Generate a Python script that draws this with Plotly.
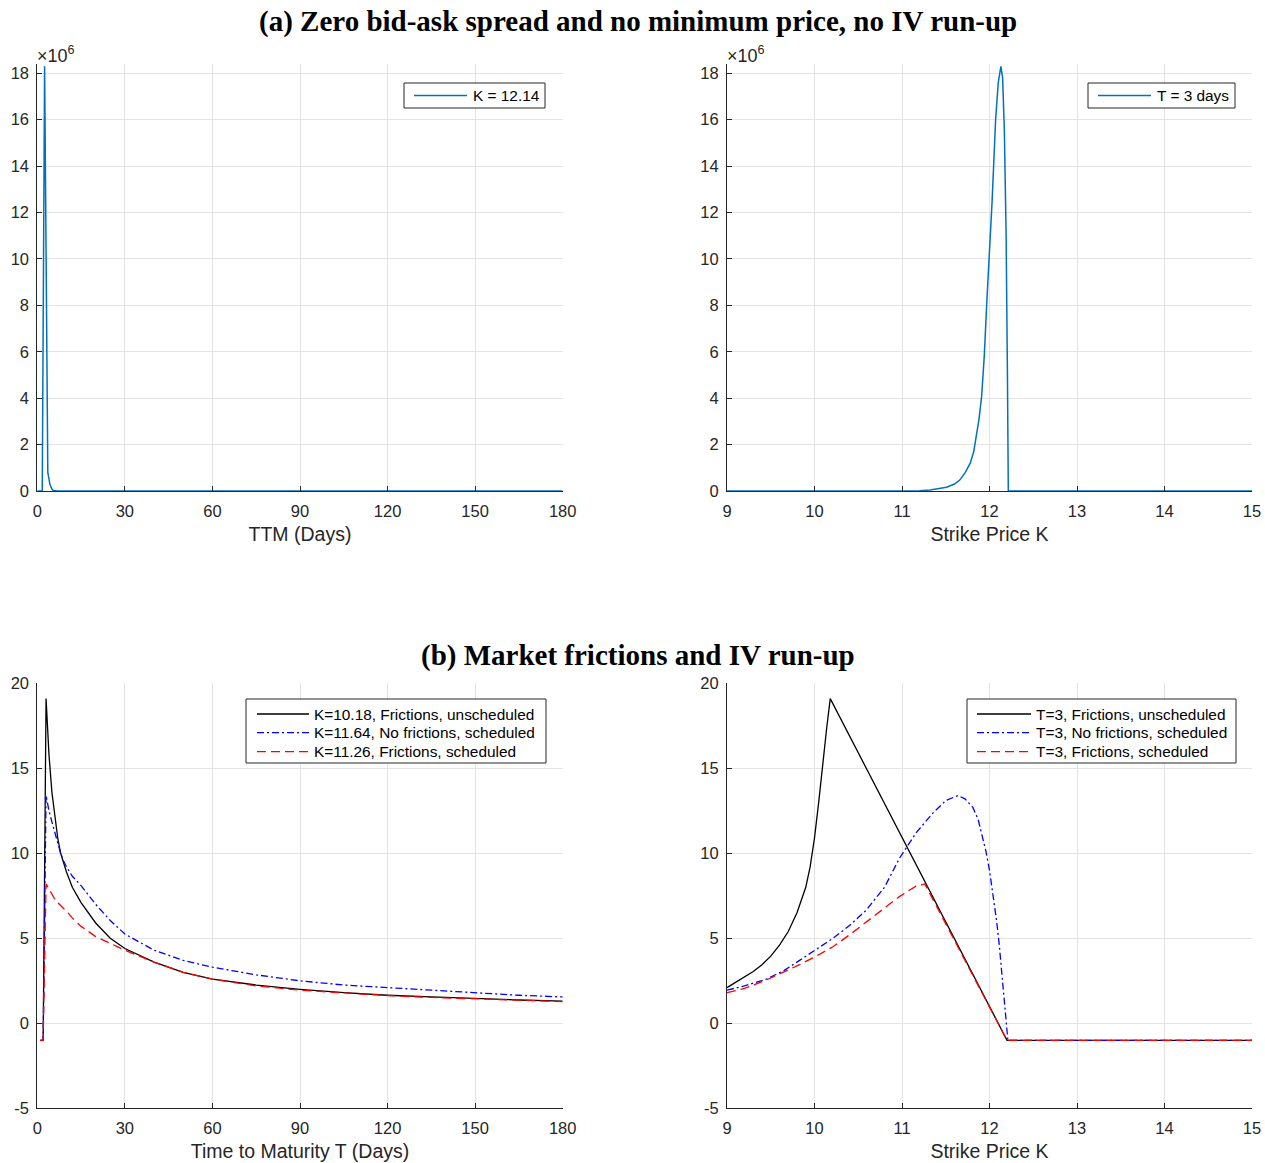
import plotly.graph_objects as go

# ---------------- data ----------------
# Panel (a) left: K = 12.14, values in units of 1e6
ttm_a = [0, 1.0, 1.7, 2.5, 3.0, 3.6, 4.3, 5.0, 5.5, 7, 10, 30, 60, 90, 120, 150, 180]
val_a = [0, 0, 0, 18.3, 9.0, 0.8, 0.3, 0.08, 0.02, 0, 0, 0, 0, 0, 0, 0, 0]

# Panel (a) right: T = 3 days, values in units of 1e6
strike_a = [9.0, 10.0, 11.0, 11.2, 11.32, 11.42, 11.51, 11.6, 11.66, 11.72, 11.78, 11.82,
            11.85, 11.88, 11.91, 11.94, 11.97, 12.0, 12.03, 12.07, 12.10, 12.13, 12.15,
            12.17, 12.19, 12.205, 12.215, 13.0, 14.0, 15.0]
valk_a = [0, 0, 0, 0.01, 0.04, 0.09, 0.16, 0.3, 0.47, 0.78, 1.2, 1.7,
          2.34, 3.1, 4.07, 5.8, 8.2, 10.3, 12.5, 16.0, 17.6, 18.3, 17.8,
          15.5, 11.0, 5.0, 0, 0, 0, 0]

# Panel (b) left: time to maturity
ttm_b = [1, 2, 3, 4, 5, 6, 7, 8, 9, 10, 12, 15, 20, 25, 30, 40, 50, 60, 75, 90, 105, 120, 135, 150, 165, 180]
fric_unsched_t = [-1, -1, 19.1, 15.8, 13.6, 12.1, 10.9, 10.0, 9.4, 8.9, 8.0, 7.1, 5.9, 5.0, 4.4, 3.6,
                  3.0, 2.6, 2.25, 2.0, 1.8, 1.65, 1.55, 1.45, 1.37, 1.3]
nofric_sched_t = [-1, -1, 13.4, 12.5, 11.85, 11.2, 10.6, 10.0, 9.55, 9.2, 8.65, 8.1, 7.0, 6.05, 5.25,
                  4.3, 3.7, 3.3, 2.85, 2.5, 2.25, 2.1, 1.95, 1.8, 1.65, 1.55]
fric_sched_t = [-1, -1, 8.2, 7.9, 7.6, 7.3, 7.1, 6.9, 6.75, 6.6, 6.2, 5.7, 5.1, 4.7, 4.3, 3.6, 3.0,
                2.6, 2.2, 1.95, 1.78, 1.63, 1.52, 1.43, 1.35, 1.28]

# Panel (b) right: strike price
k_black = [9.0, 9.1, 9.2, 9.3, 9.4, 9.5, 9.6, 9.7, 9.8, 9.9, 9.95, 10.0, 10.05, 10.1, 10.14, 10.18,
           12.2, 13.0, 14.0, 15.0]
v_black = [2.1, 2.4, 2.7, 3.05, 3.45, 3.95, 4.6, 5.4, 6.5, 8.0, 9.2, 10.9, 13.1, 15.6, 17.4, 19.1,
           -1, -1, -1, -1]
k_blue = [9.0, 9.2, 9.45, 9.65, 9.83, 10.0, 10.21, 10.4, 10.59, 10.8, 10.97, 11.16, 11.35, 11.5,
          11.64, 11.72, 11.81, 11.87, 11.92, 11.96, 12.0, 12.04, 12.08, 12.11, 12.15, 12.18, 12.21,
          13.0, 14.0, 15.0]
v_blue = [1.95, 2.2, 2.6, 3.1, 3.7, 4.3, 5.0, 5.75, 6.65, 8.0, 9.7, 11.2, 12.35, 13.1,
          13.4, 13.2, 12.7, 12.0, 11.0, 10.1, 9.0, 7.6, 6.07, 4.7, 2.5, 0.6, -1,
          -1, -1, -1]
k_red = [9.0, 9.2, 9.45, 9.65, 9.83, 10.0, 10.21, 10.4, 10.59, 10.8, 10.97, 11.16, 11.26,
         12.2, 13.0, 14.0, 15.0]
v_red = [1.8, 2.05, 2.55, 3.0, 3.45, 3.9, 4.5, 5.2, 5.96, 6.8, 7.45, 8.07, 8.2,
         -1, -1, -1, -1]

ttm_ticks = [0, 30, 60, 90, 120, 150, 180]
strike_ticks = [9, 10, 11, 12, 13, 14, 15]
ya_ticks = [0, 2, 4, 6, 8, 10, 12, 14, 16, 18]
yb_ticks = [-5, 0, 5, 10, 15, 20]

# ---------------- layout helpers ----------------
W, H = 1265, 1163
def fx(p):
    return p / W
def fy(p):
    return 1 - p / H

FONT = "Liberation Sans, Arial, Helvetica, sans-serif"
SERIF = "Liberation Serif, Times New Roman, serif"
AXC = "#262626"
GRID = "#e3e3e3"
MBLUE = "#0072BD"

solid_a = dict(color=MBLUE, width=1.5)
solid = dict(color="#000000", width=1.3)
dashdot = dict(color="#0000FF", width=1.3, dash="7px,3px,2px,3px")
dashed = dict(color="#FF0000", width=1.3, dash="9px,5px")

fig = go.Figure()

fig.add_trace(go.Scatter(x=ttm_a, y=val_a, mode="lines", name="K = 12.14",
                         line=solid_a, xaxis="x", yaxis="y", showlegend=False))
fig.add_trace(go.Scatter(x=strike_a, y=valk_a, mode="lines", name="T = 3 days",
                         line=solid_a, xaxis="x2", yaxis="y2", showlegend=False))

names_t = ["K=10.18, Frictions, unscheduled", "K=11.64, No frictions, scheduled",
           "K=11.26, Frictions, scheduled"]
names_k = ["T=3, Frictions, unscheduled", "T=3, No frictions, scheduled",
           "T=3, Frictions, scheduled"]
styles = [solid, dashdot, dashed]

for nm, ys, st in zip(names_t, [fric_unsched_t, nofric_sched_t, fric_sched_t], styles):
    fig.add_trace(go.Scatter(x=ttm_b, y=ys, mode="lines", name=nm, line=st,
                             xaxis="x3", yaxis="y3", showlegend=False))
for nm, xs, ys, st in zip(names_k, [k_black, k_blue, k_red], [v_black, v_blue, v_red], styles):
    fig.add_trace(go.Scatter(x=xs, y=ys, mode="lines", name=nm, line=st,
                             xaxis="x4", yaxis="y4", showlegend=False))


def axis(domain, rng, ticks, anchor, title=None, xaxis=True):
    d = dict(domain=domain, range=rng, tickmode="array", tickvals=ticks,
             ticktext=[str(t) for t in ticks], ticks="inside", ticklen=5,
             tickcolor=AXC, tickwidth=1, showline=True, linecolor=AXC, linewidth=1,
             mirror=False, showgrid=True, gridcolor=GRID, gridwidth=1, zeroline=False,
             tickfont=dict(family=FONT, size=16.5, color=AXC), anchor=anchor,
             automargin=False, fixedrange=True,
             ticklabelstandoff=5 if xaxis else 4)
    if title:
        d["title"] = dict(text=title, font=dict(family=FONT, size=19.5, color=AXC), standoff=8)
    return d

xl = [fx(37.3), fx(562.7)]
xr = [fx(727), fx(1252)]
yt = [fy(491), fy(64)]
yb = [fy(1108.3), fy(683.3)]

shapes = []
annotations = []

def manual_legend(box, line_x, text_x, rows, entries):
    x0, x1, y0, y1 = box
    shapes.append(dict(type="rect", xref="paper", yref="paper",
                       x0=fx(x0), x1=fx(x1), y0=fy(y1), y1=fy(y0),
                       line=dict(color=AXC, width=1), fillcolor="white", layer="above"))
    for (name, st), ry in zip(entries, rows):
        ld = dict(color=st["color"], width=st["width"])
        if "dash" in st:
            ld["dash"] = st["dash"]
        shapes.append(dict(type="line", xref="paper", yref="paper",
                           x0=fx(line_x[0]), x1=fx(line_x[1]), y0=fy(ry), y1=fy(ry),
                           line=ld, layer="above"))
        annotations.append(dict(text=name, x=fx(text_x), y=fy(ry), xref="paper", yref="paper",
                                showarrow=False, xanchor="left", yanchor="middle",
                                font=dict(family=FONT, size=15.4, color="#000000")))

manual_legend((404, 545, 83, 108), (414, 467), 471, [95.5], [("K = 12.14", solid_a)])
manual_legend((1088, 1235, 83, 108), (1098, 1151), 1155, [95.5], [("T = 3 days", solid_a)])
manual_legend((246, 546, 699, 763), (257, 309), 312, [714, 732.7, 751.7],
              list(zip(names_t, styles)))
manual_legend((967, 1236, 699, 763), (977, 1031), 1034, [714, 732.7, 751.7],
              list(zip(names_k, styles)))

annotations += [
    dict(text="<b>(a) Zero bid-ask spread and no minimum price, no IV run-up</b>",
         x=fx(638), y=fy(22), xref="paper", yref="paper", showarrow=False,
         xanchor="center", yanchor="middle",
         font=dict(family=SERIF, size=29, color="#000000")),
    dict(text="<b>(b) Market frictions and IV run-up</b>",
         x=fx(638), y=fy(655), xref="paper", yref="paper", showarrow=False,
         xanchor="center", yanchor="middle",
         font=dict(family=SERIF, size=29, color="#000000")),
    dict(text="×10<sup>6</sup>", x=fx(35), y=fy(54), xref="paper", yref="paper",
         showarrow=False, xanchor="left", yanchor="middle",
         font=dict(family=FONT, size=18, color=AXC)),
    dict(text="×10<sup>6</sup>", x=fx(725), y=fy(54), xref="paper", yref="paper",
         showarrow=False, xanchor="left", yanchor="middle",
         font=dict(family=FONT, size=18, color=AXC)),
]

fig.update_layout(
    width=W, height=H, margin=dict(l=0, r=0, t=0, b=0),
    paper_bgcolor="white", plot_bgcolor="white", showlegend=False,
    xaxis=axis(xl, [0, 180], ttm_ticks, "y", "TTM (Days)"),
    yaxis=axis(yt, [0, 18.4], ya_ticks, "x", xaxis=False),
    xaxis2=axis(xr, [9, 15], strike_ticks, "y2", "Strike Price K"),
    yaxis2=axis(yt, [0, 18.4], ya_ticks, "x2", xaxis=False),
    xaxis3=axis(xl, [0, 180], ttm_ticks, "y3", "Time to Maturity T (Days)"),
    yaxis3=axis(yb, [-5, 20], yb_ticks, "x3", xaxis=False),
    xaxis4=axis(xr, [9, 15], strike_ticks, "y4", "Strike Price K"),
    yaxis4=axis(yb, [-5, 20], yb_ticks, "x4", xaxis=False),
    shapes=shapes,
    annotations=annotations,
)

fig.write_html("out.html")
